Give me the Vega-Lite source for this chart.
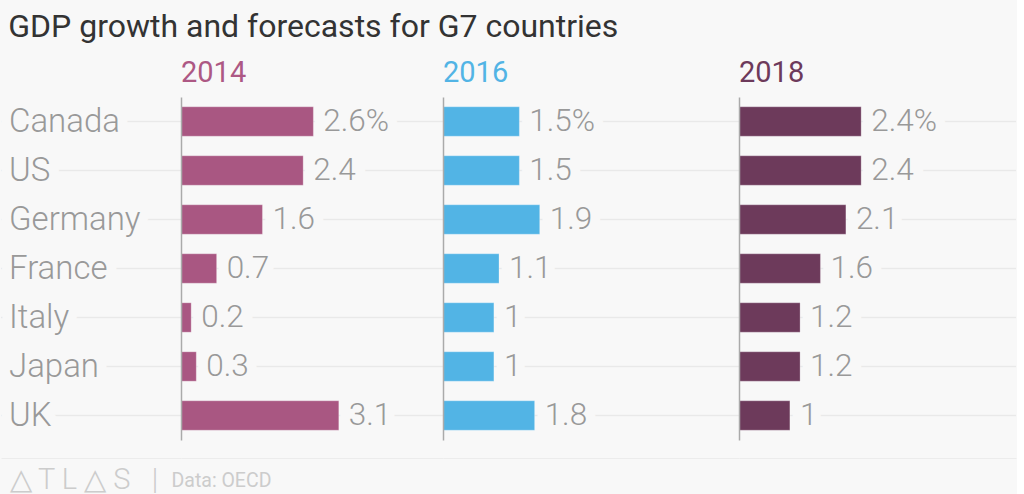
{
  "$schema": "https://vega.github.io/schema/vega-lite/v6.json",
  "background": "#f8f8f8",
  "padding": {"left": 0, "top": 10, "right": 0, "bottom": 0},
  "title": {"text": "GDP growth and forecasts for G7 countries", "anchor": "start", "dx": 8, "fontSize": 32, "font": "Roboto", "fontWeight": "normal", "color": "#333333", "offset": 15, "frame": "bounds"},
  "data": {"values": [
    {"country": "Canada", "year": "2014", "value": 2.6, "label": "2.6%"},
    {"country": "US", "year": "2014", "value": 2.4, "label": "2.4"},
    {"country": "Germany", "year": "2014", "value": 1.6, "label": "1.6"},
    {"country": "France", "year": "2014", "value": 0.7, "label": "0.7"},
    {"country": "Italy", "year": "2014", "value": 0.2, "label": "0.2"},
    {"country": "Japan", "year": "2014", "value": 0.3, "label": "0.3"},
    {"country": "UK", "year": "2014", "value": 3.1, "label": "3.1"},
    {"country": "Canada", "year": "2016", "value": 1.5, "label": "1.5%"},
    {"country": "US", "year": "2016", "value": 1.5, "label": "1.5"},
    {"country": "Germany", "year": "2016", "value": 1.9, "label": "1.9"},
    {"country": "France", "year": "2016", "value": 1.1, "label": "1.1"},
    {"country": "Italy", "year": "2016", "value": 1.0, "label": "1"},
    {"country": "Japan", "year": "2016", "value": 1.0, "label": "1"},
    {"country": "UK", "year": "2016", "value": 1.8, "label": "1.8"},
    {"country": "Canada", "year": "2018", "value": 2.4, "label": "2.4%"},
    {"country": "US", "year": "2018", "value": 2.4, "label": "2.4"},
    {"country": "Germany", "year": "2018", "value": 2.1, "label": "2.1"},
    {"country": "France", "year": "2018", "value": 1.6, "label": "1.6"},
    {"country": "Italy", "year": "2018", "value": 1.2, "label": "1.2"},
    {"country": "Japan", "year": "2018", "value": 1.2, "label": "1.2"},
    {"country": "UK", "year": "2018", "value": 1.0, "label": "1"}
  ]},
  "spacing": 0,
  "bounds": "flush",
  "hconcat": [
    {
      "width": 180, "height": 343,
      "title": {"text": " "},
      "transform": [{"filter": "datum.year == '2014'"}],
      "encoding": {
        "y": {"field": "country", "type": "nominal", "sort": ["Canada", "US", "Germany", "France", "Italy", "Japan", "UK"], "scale": {"paddingInner": 0.4, "paddingOuter": 0.2}, "axis": null}
      },
      "layer": [
        {"mark": {"type": "rule", "color": "#e9e9e9", "strokeWidth": 1.5}, "encoding": {}},
        {"mark": {"type": "text", "align": "left", "baseline": "middle", "dx": 8, "fontSize": 33, "fontWeight": 300, "stroke": "#f8f8f8", "strokeWidth": 20, "fill": "#f8f8f8"},
         "encoding": {"x": {"datum": 0, "type": "quantitative", "scale": {"domain": [0, 1], "nice": false}}, "text": {"field": "country"}}},
        {"mark": {"type": "text", "align": "left", "baseline": "middle", "dx": 8, "fontSize": 33, "fontWeight": 300, "color": "#999999"},
         "encoding": {"x": {"datum": 0, "type": "quantitative", "scale": {"domain": [0, 1], "nice": false},
           "axis": {"labels": false, "ticks": false, "grid": false, "domain": true, "domainColor": "#ececec", "offset": 18,
             "title": "△ T L △ S\u00a0\u00a0\u00a0|", "titleAnchor": "start", "titleAlign": "left", "titleX": 8, "titleY": 30, "titleBaseline": "alphabetic", "titleFontSize": 29, "titleFontWeight": 300, "titleColor": "#cccccc"}},
           "text": {"field": "country"}}}
      ]
    },
    {
      "width": 262, "height": 343,
      "title": {"text": "2014", "color": "#ad5884"},
      "transform": [{"filter": "datum.year == '2014'"}],
      "encoding": {
        "y": {"field": "country", "type": "nominal", "sort": ["Canada", "US", "Germany", "France", "Italy", "Japan", "UK"], "scale": {"paddingInner": 0.4, "paddingOuter": 0.2},
          "axis": {"labels": false, "ticks": false, "title": null, "grid": false, "domain": true, "domainColor": "#aaaaaa", "domainWidth": 1.5, "zindex": 1}}
      },
      "layer": [
        {"mark": {"type": "rule", "color": "#e9e9e9", "strokeWidth": 1.5}, "encoding": {}},
        {"mark": {"type": "text", "align": "left", "baseline": "middle", "dx": 10, "fontSize": 31.5, "fontWeight": 300, "stroke": "#f8f8f8", "strokeWidth": 20, "fill": "#f8f8f8"},
         "encoding": {"x": {"field": "value", "type": "quantitative"}, "text": {"field": "label"}}},
        {"mark": {"type": "bar", "color": "#a95782", "stroke": "#ffffff", "strokeOpacity": 0.25, "strokeWidth": 1},
         "encoding": {"x": {"field": "value", "type": "quantitative", "scale": {"domain": [0, 5.147], "nice": false},
           "axis": {"labels": false, "ticks": false, "grid": false, "domain": true, "domainColor": "#ececec", "offset": 18,
             "title": "Data: OECD", "titleAnchor": "start", "titleAlign": "left", "titleX": -10, "titleY": 28, "titleBaseline": "alphabetic", "titleFontSize": 19.5, "titleFontWeight": "normal", "titleColor": "#cccccc"}}}},
        {"mark": {"type": "text", "align": "left", "baseline": "middle", "dx": 10, "fontSize": 31.5, "fontWeight": 300, "color": "#999999"},
         "encoding": {"x": {"field": "value", "type": "quantitative"}, "text": {"field": "label"}}}
      ]
    },
    {
      "width": 296, "height": 343,
      "title": {"text": "2016", "color": "#52b4e5"},
      "transform": [{"filter": "datum.year == '2016'"}],
      "encoding": {
        "y": {"field": "country", "type": "nominal", "sort": ["Canada", "US", "Germany", "France", "Italy", "Japan", "UK"], "scale": {"paddingInner": 0.4, "paddingOuter": 0.2},
          "axis": {"labels": false, "ticks": false, "title": null, "grid": false, "domain": true, "domainColor": "#aaaaaa", "domainWidth": 1.5, "zindex": 1}}
      },
      "layer": [
        {"mark": {"type": "rule", "color": "#e9e9e9", "strokeWidth": 1.5}, "encoding": {}},
        {"mark": {"type": "text", "align": "left", "baseline": "middle", "dx": 10, "fontSize": 31.5, "fontWeight": 300, "stroke": "#f8f8f8", "strokeWidth": 20, "fill": "#f8f8f8"},
         "encoding": {"x": {"field": "value", "type": "quantitative"}, "text": {"field": "label"}}},
        {"mark": {"type": "bar", "color": "#52b4e5", "stroke": "#ffffff", "strokeOpacity": 0.25, "strokeWidth": 1},
         "encoding": {"x": {"field": "value", "type": "quantitative", "scale": {"domain": [0, 5.815], "nice": false},
           "axis": {"labels": false, "ticks": false, "grid": false, "domain": true, "domainColor": "#ececec", "offset": 18, "title": null}}}},
        {"mark": {"type": "text", "align": "left", "baseline": "middle", "dx": 10, "fontSize": 31.5, "fontWeight": 300, "color": "#999999"},
         "encoding": {"x": {"field": "value", "type": "quantitative"}, "text": {"field": "label"}}}
      ]
    },
    {
      "width": 277, "height": 343,
      "title": {"text": "2018", "color": "#6d3a5b"},
      "transform": [{"filter": "datum.year == '2018'"}],
      "encoding": {
        "y": {"field": "country", "type": "nominal", "sort": ["Canada", "US", "Germany", "France", "Italy", "Japan", "UK"], "scale": {"paddingInner": 0.4, "paddingOuter": 0.2},
          "axis": {"labels": false, "ticks": false, "title": null, "grid": false, "domain": true, "domainColor": "#aaaaaa", "domainWidth": 1.5, "zindex": 1}}
      },
      "layer": [
        {"mark": {"type": "rule", "color": "#e9e9e9", "strokeWidth": 1.5}, "encoding": {}},
        {"mark": {"type": "text", "align": "left", "baseline": "middle", "dx": 10, "fontSize": 31.5, "fontWeight": 300, "stroke": "#f8f8f8", "strokeWidth": 20, "fill": "#f8f8f8"},
         "encoding": {"x": {"field": "value", "type": "quantitative"}, "text": {"field": "label"}}},
        {"mark": {"type": "bar", "color": "#6d3a5b", "stroke": "#ffffff", "strokeOpacity": 0.25, "strokeWidth": 1},
         "encoding": {"x": {"field": "value", "type": "quantitative", "scale": {"domain": [0, 5.442], "nice": false},
           "axis": {"labels": false, "ticks": false, "grid": false, "domain": true, "domainColor": "#ececec", "offset": 18, "title": null}}}},
        {"mark": {"type": "text", "align": "left", "baseline": "middle", "dx": 10, "fontSize": 31.5, "fontWeight": 300, "color": "#999999"},
         "encoding": {"x": {"field": "value", "type": "quantitative"}, "text": {"field": "label"}}}
      ]
    }
  ],
  "config": {
    "view": {"stroke": null},
    "font": "Roboto",
    "title": {"anchor": "start", "fontSize": 29, "fontWeight": "normal", "font": "Roboto", "baseline": "alphabetic", "offset": 9.5, "frame": "group"}
  }
}
